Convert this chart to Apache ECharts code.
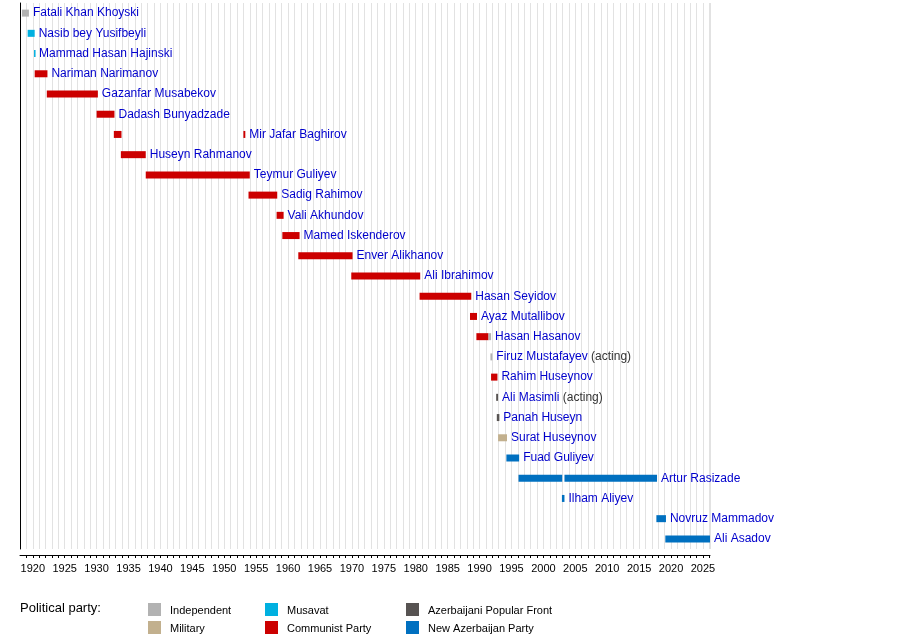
<!DOCTYPE html>
<html>
<head>
<meta charset="utf-8">
<script src="https://cdn.jsdelivr.net/npm/echarts@6/dist/echarts.min.js"></script>
<style>html,body{margin:0;padding:0;background:#fff}#main{width:900px;height:636px}</style>
</head>
<body>
<div id="main"></div>
<script>
// rows, top to bottom
var names = ['Fatali Khan Khoyski', 'Nasib bey Yusifbeyli', 'Mammad Hasan Hajinski', 'Nariman Narimanov',
    'Gazanfar Musabekov', 'Dadash Bunyadzade', 'Mir Jafar Baghirov', 'Huseyn Rahmanov', 'Teymur Guliyev',
    'Sadig Rahimov', 'Vali Akhundov', 'Mamed Iskenderov', 'Enver Alikhanov', 'Ali Ibrahimov', 'Hasan Seyidov',
    'Ayaz Mutallibov', 'Hasan Hasanov', 'Firuz Mustafayev', 'Rahim Huseynov', 'Ali Masimli', 'Panah Huseyn',
    'Surat Huseynov', 'Fuad Guliyev', 'Artur Rasizade', 'Ilham Aliyev', 'Novruz Mammadov', 'Ali Asadov'];
var notes = ['', '', '', '', '', '', '', '', '', '', '', '', '', '', '', '', '', '(acting)', '', '(acting)', '', '', '', '', '', '', ''];

// terms: row index, start, end, party
var termRow   = [0, 1, 2, 3, 4, 5, 6, 6, 7, 8, 9, 10, 11, 12, 13, 14, 15, 16, 16, 17, 18, 19, 20, 21, 22, 23, 23, 24, 25, 26];
var termStart = [1918.3, 1919.2, 1920.2, 1920.3, 1922.2, 1930.0, 1932.7, 1953.0, 1933.8, 1937.7, 1953.8, 1958.2, 1959.1, 1961.6, 1969.9, 1980.6, 1988.5, 1989.5, 1991.4, 1991.7, 1991.8, 1992.6, 1992.7, 1992.9, 1994.2, 1996.1, 2003.3, 2002.9, 2017.7, 2019.1];
var termEnd   = [1919.4, 1920.3, 1920.35, 1922.3, 1930.2, 1932.8, 1933.9, 1953.3, 1937.7, 1954.0, 1958.3, 1959.3, 1961.8, 1970.1, 1980.7, 1988.7, 1989.6, 1991.4, 1991.8, 1992.0, 1992.8, 1992.9, 1993.1, 1994.3, 1996.2, 2002.95, 2017.8, 2003.3, 2019.2, 2026.1];
var termParty = [0, 1, 1, 4, 4, 4, 4, 4, 4, 4, 4, 4, 4, 4, 4, 4, 4, 4, 0, 0, 4, 2, 2, 3, 5, 5, 5, 5, 5, 5];

var partyNames  = ['Independent', 'Musavat', 'Azerbaijani Popular Front', 'Military', 'Communist Party', 'New Azerbaijan Party'];
var partyColors = ['#b2b2b2', '#00b0e0', '#575352', '#c2b08e', '#cc0000', '#0070c0'];

var yearTicks = [1920, 1925, 1930, 1935, 1940, 1945, 1950, 1955, 1960, 1965, 1970, 1975, 1980, 1985, 1990, 1995, 2000, 2005, 2010, 2015, 2020, 2025];

// label position: end of the last term for each row
var labelEnd = names.map(function (n, r) {
    var e = 0;
    for (var i = 0; i < termRow.length; i++) if (termRow[i] === r) e = Math.max(e, termEnd[i]);
    if (r === 6) e = 1953.3;
    return e;
});

var terms = termRow.map(function (r, i) { return [termStart[i], termEnd[i], r, termParty[i]]; });
var labels = names.map(function (n, r) { return [labelEnd[r], r, n, notes[r]]; });

var myChart = echarts.init(document.getElementById('main'));
var FONT = '"Liberation Sans", Arial, sans-serif';

var legendGraphics = [{ type: 'text', left: 20, top: 602, style: { text: 'Political party:', font: '13px ' + FONT, fill: '#000' } }];
var legendPos = [[148, 603], [265, 603], [406, 603], [148, 621], [265, 621], [406, 621]];
partyNames.forEach(function (p, i) {
    legendGraphics.push({ type: 'rect', shape: { x: legendPos[i][0], y: legendPos[i][1], width: 13, height: 13 }, style: { fill: partyColors[i] } });
    legendGraphics.push({ type: 'text', x: legendPos[i][0] + 22, y: legendPos[i][1] + 2, style: { text: p, font: '11px ' + FONT, fill: '#000' } });
});

myChart.setOption({
    animation: false,
    grid: { left: 20, right: 190, top: 3, height: 546 },
    xAxis: {
        type: 'value', min: 1918, max: 2026.1, interval: 1, offset: 6,
        axisLine: { show: true, lineStyle: { color: '#000' } },
        axisTick: { show: true, length: 3, lineStyle: { color: '#000' } },
        axisLabel: {
            margin: 8, fontSize: 11, fontFamily: FONT, color: '#000', showMinLabel: false, showMaxLabel: false,
            formatter: function (v) { return yearTicks.indexOf(v) >= 0 ? String(v) : ''; }
        },
        splitLine: { show: true, lineStyle: { color: '#e2e2e2', width: 1 } }
    },
    yAxis: {
        type: 'category', data: names, inverse: true,
        axisLine: { show: true, lineStyle: { color: '#000' } },
        axisTick: { show: false }, axisLabel: { show: false }
    },
    graphic: legendGraphics,
    series: [{
        type: 'custom',
        data: terms,
        encode: { x: [0, 1], y: 2 },
        renderItem: function (params, api) {
            var a = api.coord([api.value(0), api.value(2)]);
            var b = api.coord([api.value(1), api.value(2)]);
            return {
                type: 'rect',
                shape: { x: a[0], y: a[1] - 3.5, width: Math.max(b[0] - a[0], 1.5), height: 7 },
                style: { fill: partyColors[api.value(3)] }
            };
        }
    }, {
        type: 'custom',
        data: labels,
        encode: { x: 0, y: 1 },
        renderItem: function (params, api) {
            var p = api.coord([api.value(0), api.value(1)]);
            var d = labels[params.dataIndex];
            return {
                type: 'text', x: p[0] + 4, y: p[1],
                style: {
                    text: '{n|' + d[2] + '}' + (d[3] ? '{a| ' + d[3] + '}' : ''),
                    verticalAlign: 'middle',
                    rich: {
                        n: { fontSize: 12, fontFamily: FONT, fill: '#0000cc' },
                        a: { fontSize: 12, fontFamily: FONT, fill: '#333' }
                    }
                }
            };
        }
    }]
});
</script>
</body>
</html>
